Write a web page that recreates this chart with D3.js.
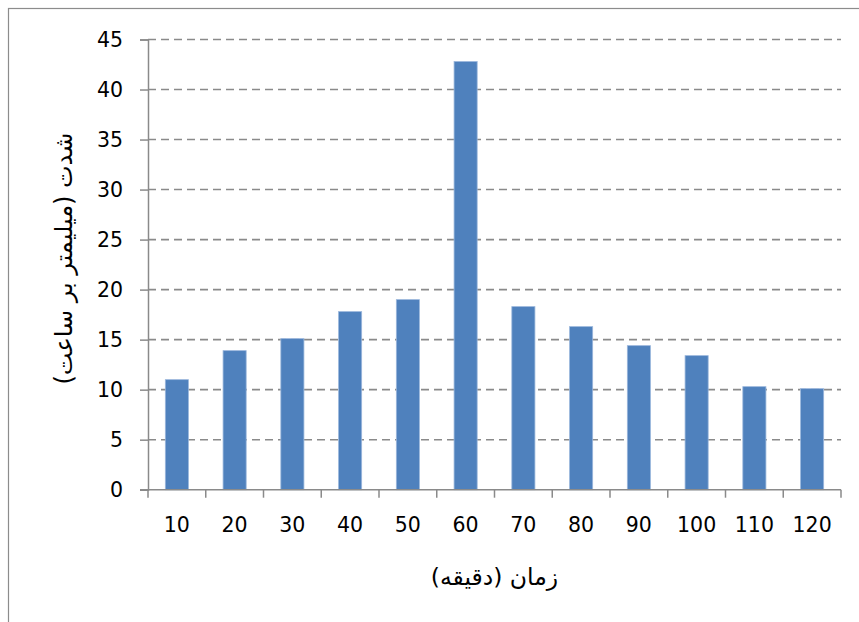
<!DOCTYPE html>
<html>
<head>
<meta charset="utf-8">
<script src="https://cdn.jsdelivr.net/npm/d3@7"></script>
<style>
  html, body { margin: 0; padding: 0; background: #fff; }
  svg { display: block; }
  text { font-family: "DejaVu Sans", "Open Sans", sans-serif; fill: #000; }
</style>
</head>
<body>
<svg id="chart" width="859" height="622"></svg>
<script>
const categories = ["10", "20", "30", "40", "50", "60", "70", "80", "90", "100", "110", "120"];
const values = [11.0, 13.9, 15.1, 17.8, 19.0, 42.8, 18.3, 16.3, 14.4, 13.4, 10.3, 10.1];
const yTicks = [0, 5, 10, 15, 20, 25, 30, 35, 40, 45];
const xTitle = "زمان (دقیقه)";
const yTitle = "شدت (میلیمتر بر ساعت)";

const svg = d3.select("#chart");
const W = 859, H = 622;
const plot = { left: 148, right: 841, top: 39.5, bottom: 489.7 };

// outer chart border
svg.append("rect")
  .attr("x", 8.5).attr("y", 8.5)
  .attr("width", W + 20).attr("height", H + 20)
  .attr("fill", "#fff").attr("stroke", "#8c8c8c").attr("stroke-width", 1.2);

const x = d3.scaleBand().domain(categories).range([plot.left, plot.right]).padding(0);
const y = d3.scaleLinear().domain([0, 45]).range([plot.bottom, plot.top]);

// gridlines
svg.append("g").selectAll("line")
  .data(yTicks.filter(d => d > 0))
  .join("line")
  .attr("x1", plot.left).attr("x2", plot.right)
  .attr("y1", d => y(d)).attr("y2", d => y(d))
  .attr("stroke", "#8a8a8a").attr("stroke-width", 1.6)
  .attr("stroke-dasharray", "8,5");

// bars
const bw = x.bandwidth() * 0.4;
svg.append("g").selectAll("rect")
  .data(values)
  .join("rect")
  .attr("x", (d, i) => x(categories[i]) + (x.bandwidth() - bw) / 2)
  .attr("y", d => y(d))
  .attr("width", bw)
  .attr("height", d => y(0) - y(d))
  .attr("fill", "#4F81BD")
  .attr("stroke", "#9bb7dc").attr("stroke-width", 0.8);

// y axis
const yAxis = d3.axisLeft(y).tickValues(yTicks).tickSize(8).tickPadding(17);
const gy = svg.append("g").attr("transform", `translate(${plot.left},0)`).call(yAxis);
gy.attr("font-family", null).attr("font-size", null);
gy.select(".domain").attr("stroke", "#8a8a8a").attr("stroke-width", 1.5);
gy.selectAll(".tick line").attr("stroke", "#8a8a8a").attr("stroke-width", 1.5);
gy.selectAll(".tick text").style("font-size", "20.5px").attr("fill", "#000");

// x axis: ticks at band boundaries
const gx = svg.append("g").attr("transform", `translate(0,${plot.bottom})`);
gx.append("line")
  .attr("x1", plot.left - 8).attr("x2", plot.right)
  .attr("stroke", "#8a8a8a").attr("stroke-width", 1.5);
const boundaries = categories.map(c => x(c)).concat([x.range()[1]]);
gx.selectAll("line.tk").data(boundaries).join("line").attr("class", "tk")
  .attr("x1", d => d).attr("x2", d => d).attr("y1", 0).attr("y2", 8)
  .attr("stroke", "#8a8a8a").attr("stroke-width", 1.5);
gx.selectAll("text").data(categories).join("text")
  .attr("x", d => x(d) + x.bandwidth() / 2)
  .attr("y", 35)
  .attr("dy", "0.35em")
  .attr("text-anchor", "middle")
  .style("font-size", "20.5px")
  .text(d => d);

// axis titles
svg.append("text")
  .attr("x", (plot.left + plot.right) / 2).attr("y", 577)
  .attr("dy", "0.35em").attr("text-anchor", "middle")
  .attr("direction", "rtl")
  .style("font-size", "23.5px")
  .text(xTitle);

svg.append("text")
  .attr("transform", `translate(64,${(plot.top + plot.bottom) / 2 - 6}) rotate(-90)`)
  .attr("dy", "0.35em").attr("text-anchor", "middle")
  .attr("direction", "rtl")
  .style("font-size", "24px")
  .text(yTitle);
</script>
</body>
</html>
